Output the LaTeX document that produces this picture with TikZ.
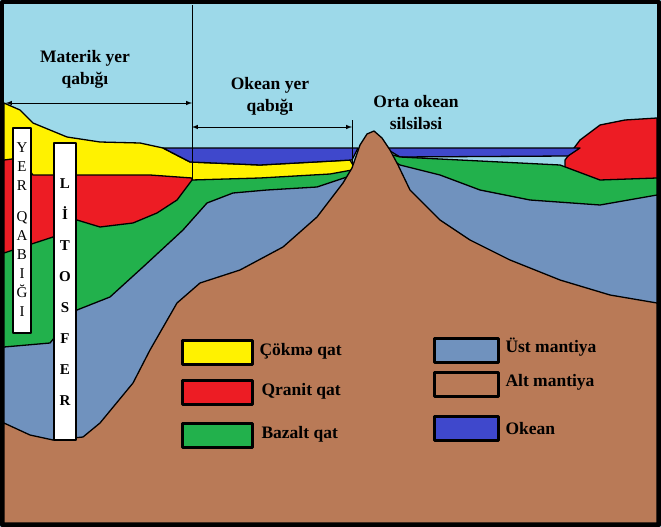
\documentclass[tikz,border=0pt]{standalone}
\usepackage{fontspec}
\setmainfont{Liberation Serif}
\begin{document}
\begin{tikzpicture}[x=1pt,y=-1pt,line join=round,
  lay/.style={draw=black,line width=1.3pt},
  key/.style={draw=black,line width=2.5pt,minimum width=70pt,minimum height=24pt,anchor=north west,inner sep=0pt},
  lab/.style={font=\bfseries\fontsize{17.5}{19}\selectfont,anchor=west},
  hd/.style={font=\bfseries\fontsize{17.5}{22}\selectfont,align=center},
  vbox/.style={draw=black,line width=2.5pt,fill=white}]
\definecolor{sky}{HTML}{9DD9E9}
\definecolor{yel}{HTML}{FFF200}
\definecolor{rd}{HTML}{ED1C24}
\definecolor{gr}{HTML}{22B14C}
\definecolor{um}{HTML}{7092BE}
\definecolor{br}{HTML}{B97A57}
\definecolor{oc}{HTML}{3F48CC}
\useasboundingbox (0,0) rectangle (661,527);
\fill[sky] (0,0) rectangle (661,527);
% yellow
\fill[yel,lay] (4,103) -- (20,110) -- (33,123) -- (67,137) -- (100,142) -- (140,143) -- (163,148) -- (190,162) -- (260,165) -- (350,160) -- (357,172) -- (357,523) -- (4,523) -- cycle;
% ocean left
\fill[oc,lay] (163,148) -- (358,148) -- (352,160) -- (260,165) -- (190,162) -- cycle;
% red left
\fill[rd,lay] (4,160) -- (20,158) -- (33,175) -- (100,175) -- (150,175) -- (192,178) -- (192,523) -- (4,523) -- cycle;
% red right
\fill[rd,lay] (565,160) -- (580,140) -- (600,125) -- (625,120) -- (657,118) -- (657,523) -- (565,523) -- cycle;
% ocean right
\fill[oc,lay] (385,148) -- (580,148) -- (568,156) -- (400,157) -- cycle;
% green
\fill[gr,lay] (4,253) -- (53,237) -- (77,220) -- (100,227) -- (133,223) -- (157,213) -- (177,200) -- (192,180) -- (260,178) -- (330,174) -- (352,170) -- (375,150) -- (400,157) -- (460,160) -- (560,165) -- (600,180) -- (657,178) -- (657,523) -- (4,523) -- cycle;
% upper mantle
\fill[um,lay] (4,347) -- (50,343) -- (77,310) -- (110,297) -- (143,267) -- (183,230) -- (207,203) -- (233,193) -- (267,190) -- (317,187) -- (347,177) -- (375,150) -- (400,165) -- (440,175) -- (480,190) -- (530,200) -- (600,205) -- (657,195) -- (657,523) -- (4,523) -- cycle;
% lower mantle
\fill[br,lay] (4,423) -- (30,435) -- (53,440) -- (83,437) -- (100,423) -- (133,383) -- (150,350) -- (177,303) -- (200,283) -- (240,270) -- (283,247) -- (317,217) -- (343,183) -- (352,168) -- (360,145) -- (367,134) -- (374,131) -- (382,138) -- (390,150) -- (398,165) -- (410,190) -- (440,220) -- (470,240) -- (510,260) -- (560,280) -- (610,295) -- (657,303) -- (657,523) -- (4,523) -- cycle;
% annotations
\coordinate (v1t) at (192,5); \coordinate (v1b) at (192,180);
\draw[line width=1pt] (v1t) -- (v1b);
\coordinate (v2t) at (352,120); \coordinate (v2b) at (352,168);
\draw[line width=1pt] (v2t) -- (v2b);
\coordinate (a1) at (6,103); \coordinate (a2) at (192,103);
\draw[line width=1pt,latex-latex] (a1) -- (a2);
\coordinate (b1) at (192,127); \coordinate (b2) at (352,127);
\draw[line width=1pt,latex-latex] (b1) -- (b2);
\node[hd] (h1) at (85,69) {Materik yer\\qabığı};
\node[hd] (h2) at (270,96) {Okean yer\\qabığı};
\node[hd] (h3) at (416,113) {Orta okean\\silsiləsi};
% vertical boxes
\draw[vbox] (13,128) rectangle (31,333);
\node[font=\fontsize{15}{19}\selectfont,align=center] (yer) at (22,230) {Y\\E\\R\\[12pt]Q\\A\\B\\I\\Ğ\\I};
\draw[vbox] (54,143) rectangle (76,440);
\node[font=\bfseries\fontsize{15}{31}\selectfont,align=center] (lit) at (65,292) {L\\İ\\T\\O\\S\\F\\E\\R};
% legend
\node[key,fill=yel] (k1) at (181,339) {}; \node[lab] (t1) at (256,351) {Çökmə qat};
\node[key,fill=rd] (k2) at (181,379) {}; \node[lab] (t2) at (258,391) {Qranit qat};
\node[key,fill=gr] (k3) at (181,422) {}; \node[lab] (t3) at (258,434) {Bazalt qat};
\node[key,fill=um,minimum width=64pt] (k4) at (433,337) {}; \node[lab] (t4) at (502,347) {Üst mantiya};
\node[key,fill=br,minimum width=64pt] (k5) at (433,371) {}; \node[lab] (t5) at (502,382) {Alt mantiya};
\node[key,fill=oc,minimum width=64pt] (k6) at (433,415) {}; \node[lab] (t6) at (502,429) {Okean};
\draw[line width=4pt] (2,2) rectangle (659,525);
\end{tikzpicture}
\end{document}
